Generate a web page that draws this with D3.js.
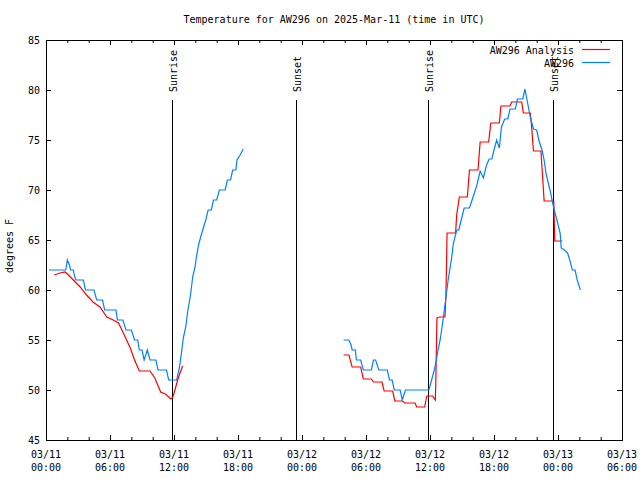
<!DOCTYPE html>
<html><head><meta charset="utf-8">
<script src="https://cdn.jsdelivr.net/npm/d3@7"></script>
<style>
body{margin:0;background:#fff;}
text{font-family:"DejaVu Sans Mono","Liberation Mono",monospace;font-size:10px;fill:#000;}
</style></head>
<body><svg id="c" width="640" height="480"></svg>
<script>
// ---- data (hours since 03/11 00:00 UTC, degrees F); null = gap ----
const obsHours = [0.28,1.85,2.0,2.2,2.3,2.56,2.65,2.8,3.5,3.7,4.5,4.75,5.3,5.5,6.56,6.7,7.2,7.5,8.0,8.3,8.6,8.75,9.0,9.2,9.5,9.75,10.3,10.5,11.3,11.5,12.25,12.5,12.7,12.87,13.1,13.3,13.55,13.75,13.97,14.1,14.3,14.5,14.75,15.0,15.2,15.5,15.7,16.0,16.25,16.8,17.0,17.3,17.5,17.8,17.9,18.2,18.5,
  null,
  27.9,28.4,28.6,28.7,29.0,29.1,29.5,29.75,30.5,30.7,30.9,31.2,32.0,32.2,32.45,32.65,33.2,33.4,33.7,35.9,36.15,36.4,36.6,36.75,36.95,37.25,37.5,37.7,38.0,38.2,38.5,38.7,39.0,39.2,39.7,40.1,40.4,40.7,41.0,41.3,41.55,41.8,42.0,42.25,42.5,42.7,43.0,43.3,43.5,44.0,44.2,44.7,44.9,45.1,45.4,45.7,46.0,46.2,46.5,46.7,46.9,47.25,47.5,47.7,47.9,48.2,48.3,48.6,48.9,49.1,49.35,49.6,49.8,50.1];
const obsTemps = [62,62,63,62.5,62,62,61.5,61,61,60,60,59,59,58,58,57,57,56,56,55,55,54,54,53,54,53,53,52,52,51,51,52.2,53.7,55.2,56.3,58,59.5,61.3,62.3,63.3,64.5,65.3,66.2,67.1,68,68,69,69,70,70,71,71,72,72,73,73.5,74.1,
  null,
  55,55,54.5,54,54,53,53,52,52,53,53,52,52,51,51,50,50,49,50,50,51,52,53,54,55,57.2,59.3,61,63,64.7,66,66,67.3,68.2,68.2,69.5,70.5,71.9,71.2,72.5,73.1,73.1,74,75,74.2,76.3,77.1,77.1,78.1,78.1,79.1,79.1,80.1,79,77.3,76.1,76,75,74,73,71.5,70,68.7,67.8,67,65.7,64.2,64,63.7,63,62,62,61,60];

const anaHours = [0.78,1.3,1.8,2.1,2.56,3.2,3.8,4.4,5.06,5.7,6.3,6.8,7.25,7.9,8.3,8.75,9.75,10.2,10.75,11.2,11.7,11.9,12.4,12.8,
  null,
  27.9,28.4,28.7,29.5,29.75,30.5,30.7,31.5,31.7,32.5,32.7,33.4,33.65,34.6,34.75,35.5,35.7,36.25,36.5,36.55,36.65,36.9,37.4,37.5,37.6,38.4,38.5,38.75,39.5,39.7,40.5,40.7,41.5,41.7,42.5,42.65,43.5,43.66,44.6,44.75,45.4,45.5,45.7,46.4,46.7,47.6,47.7,48.4];
const anaTemps = [61.5,61.7,61.8,61.5,61,60.3,59.5,58.8,58.3,57.3,57,56.7,55.7,54.2,53,51.9,51.9,51.2,49.8,49.6,49.1,49.3,51.2,52.4,
  null,
  53.5,53.5,52.3,52.3,51.1,51.1,50.8,50.8,49.9,49.9,48.9,48.9,48.7,48.7,48.3,48.3,49.4,49.4,49,51.2,57.2,57.3,57.3,59.7,65.7,65.7,67.5,69.3,69.3,72,72,74.8,74.8,76.7,76.7,78.4,78.4,78.8,78.8,77.7,77.7,76.7,73.9,73.9,68.9,68.9,64.9,64.9];

const sunEventHours = [11.81, 23.44, 35.81, 47.53];
const sunEventLabels = ["Sunrise", "Sunset", "Sunrise", "Sunset"];

const xMajorTicks = [0,6,12,18,24,30,36,42,48,54];
const xTickDates = ["03/11","03/11","03/11","03/11","03/12","03/12","03/12","03/12","03/13","03/13"];
const xTickTimes = ["00:00","06:00","12:00","18:00","00:00","06:00","12:00","18:00","00:00","06:00"];
const yTicks = [45,50,55,60,65,70,75,80,85];

const seriesNames = ["AW296 Analysis", "AW296"];
const seriesColors = ["#ff0000", "#0080ff"];

// ---- layout ----
const L = 46, R = 622, T = 40, B = 440;
const svg = d3.select("#c");
const x = d3.scaleLinear().domain([0, 54]).range([L, R]);
const y = d3.scaleLinear().domain([45, 85]).range([B, T]);
const xMinor = d3.range(0, 55, 2).filter(h => h % 6 !== 0);

// axes (ticks inward, mirrored)
function axisGroup(axis, tx, ty) {
  const g = svg.append("g").attr("transform", `translate(${tx},${ty})`).call(axis);
  g.select(".domain").remove();
  g.selectAll("line").attr("stroke", "#000").attr("stroke-width", 1);
  g.selectAll("text").remove();
  return g;
}
axisGroup(d3.axisBottom(x).tickValues(xMajorTicks).tickSize(-5), 0, B);
axisGroup(d3.axisBottom(x).tickValues(xMinor).tickSize(-3), 0, B);
axisGroup(d3.axisTop(x).tickValues(xMajorTicks).tickSize(-5), 0, T);
axisGroup(d3.axisTop(x).tickValues(xMinor).tickSize(-3), 0, T);
axisGroup(d3.axisLeft(y).tickValues(yTicks).tickSize(-5), L, 0);
axisGroup(d3.axisRight(y).tickValues(yTicks).tickSize(-5), R, 0);

// border
svg.append("rect").attr("x", L + 0.5).attr("y", T + 0.5).attr("width", R - L).attr("height", B - T)
  .attr("fill", "none").attr("stroke", "#000").attr("stroke-width", 1);

// y labels
svg.selectAll(".ylab").data(yTicks).join("text")
  .attr("x", L - 6).attr("y", d => y(d)).attr("dy", "0.35em")
  .attr("text-anchor", "end").text(d => d);

// x labels
const xl = svg.selectAll(".xlab").data(xMajorTicks).join("text")
  .attr("text-anchor", "middle");
xl.append("tspan").attr("x", d => x(d)).attr("y", 458).text((d, i) => xTickDates[i]);
xl.append("tspan").attr("x", d => x(d)).attr("y", 471).text((d, i) => xTickTimes[i]);

// y title
svg.append("text").attr("transform", "translate(13,246) rotate(-90)")
  .attr("text-anchor", "middle").text("degrees F");

// title
svg.append("text").attr("x", (L + R) / 2).attr("y", 23).attr("text-anchor", "middle")
  .text("Temperature for AW296 on 2025-Mar-11 (time in UTC)");

// sunrise/sunset lines
svg.selectAll(".sun").data(sunEventHours).join("line")
  .attr("x1", d => Math.round(x(d)) + 0.5).attr("x2", d => Math.round(x(d)) + 0.5)
  .attr("y1", 100).attr("y2", B).attr("stroke", "#000").attr("stroke-width", 1);
svg.selectAll(".sunlab").data(sunEventHours).join("text")
  .attr("transform", d => `translate(${Math.round(x(d)) + 1},92) rotate(-90)`)
  .attr("text-anchor", "start").attr("dy", "0.35em")
  .text((d, i) => sunEventLabels[i]);

// series
function toPts(hs, vs) { return hs.map((h, i) => ({h, v: vs[i]})); }
const line = d3.line().defined(d => d.h != null && d.v != null)
  .x(d => x(d.h)).y(d => y(d.v));
svg.append("path").datum(toPts(anaHours, anaTemps)).attr("d", line)
  .attr("fill", "none").attr("stroke", seriesColors[0]).attr("stroke-width", 1.2);
svg.append("path").datum(toPts(obsHours, obsTemps)).attr("d", line)
  .attr("fill", "none").attr("stroke", seriesColors[1]).attr("stroke-width", 1.2);

// legend
seriesNames.forEach((n, i) => {
  const ly = 50 + i * 13;
  svg.append("text").attr("x", 574).attr("y", ly).attr("dy", "0.35em")
    .attr("text-anchor", "end").text(n);
  svg.append("line").attr("x1", 582).attr("x2", 610).attr("y1", ly - 0.5).attr("y2", ly - 0.5)
    .attr("stroke", seriesColors[i]).attr("stroke-width", 1.2);
});
</script></body></html>
